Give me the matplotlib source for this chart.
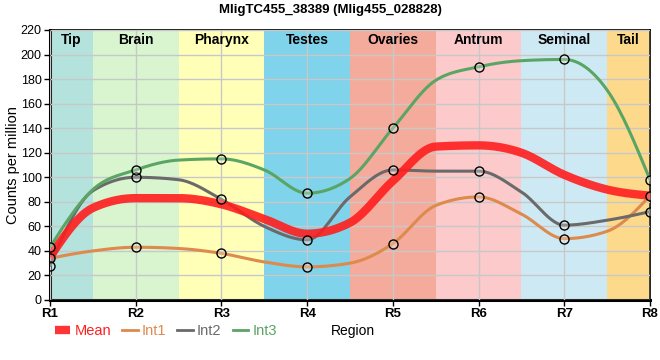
import matplotlib
matplotlib.use('Agg')
import matplotlib.pyplot as plt
from matplotlib.lines import Line2D
import numpy as np

plt.rcParams['font.family'] = ['Liberation Sans', 'DejaVu Sans']

# data
regions = ['R1', 'R2', 'R3', 'R4', 'R5', 'R6', 'R7', 'R8']
int1 = [34, 43, 38, 27, 46, 84, 50, 85]
int2 = [28, 100, 82, 49, 106, 105, 61, 72]
int3 = [43, 106, 115, 87, 140, 190, 196, 98]
mean = [35, 83, 78, 54, 97, 126, 102, 85]

# unmarked values the curves pass through at the region borders (R1|R2 ... R7|R8)
int1_border = [40, 42, 31, 30, 77, 70, 56]
int2_border = [89, 98, 60, 84, 105, 88, 65]
int3_border = [90, 114, 106, 99, 179, 195, 171]
mean_border = [75, 83, 66, 63, 125, 120, 90]

band_names = ['Tip', 'Brain', 'Pharynx', 'Testes', 'Ovaries', 'Antrum', 'Seminal', 'Tail']
band_colors = ['#b4e3de', '#d8f5d0', '#ffffb8', '#7fd3ea', '#f5ab9c', '#fdcacb', '#cdeaf4', '#fdd98c']


def monotone_curve(x, y, n=30):
    # hermite segments with limited slopes, like d3.curveMonotoneX
    x = np.asarray(x, float)
    y = np.asarray(y, float)
    h = np.diff(x)
    s = np.diff(y) / h
    t = np.zeros(len(x))
    for i in range(1, len(x) - 1):
        p = (s[i - 1] * h[i] + s[i] * h[i - 1]) / (h[i - 1] + h[i])
        t[i] = (np.sign(s[i - 1]) + np.sign(s[i])) * min(abs(s[i - 1]), abs(s[i]), 0.5 * abs(p))
    t[0] = (3 * s[0] - t[1]) / 2
    t[-1] = (3 * s[-1] - t[-2]) / 2
    xs, ys = [], []
    for i in range(len(x) - 1):
        u = np.linspace(0, 1, n)
        h00 = 2 * u**3 - 3 * u**2 + 1
        h10 = u**3 - 2 * u**2 + u
        h01 = -2 * u**3 + 3 * u**2
        h11 = u**3 - u**2
        xs.append(x[i] + u * h[i])
        ys.append(h00 * y[i] + h10 * h[i] * t[i] + h01 * y[i + 1] + h11 * h[i] * t[i + 1])
    return np.concatenate(xs), np.concatenate(ys)


def knots(vals, border):
    kx, ky = [], []
    for i, v in enumerate(vals):
        kx.append(i)
        ky.append(v)
        if i < len(border):
            kx.append(i + 0.5)
            ky.append(border[i])
    return kx, ky


fig = plt.figure(figsize=(6.6, 3.6), dpi=100)
ax = fig.add_axes([50 / 660, 60 / 360, 600 / 660, 270 / 360])

xpos = np.arange(len(regions))

# coloured region bands
edges = np.concatenate([[0], np.arange(0.5, len(regions) - 1, 1.0), [len(regions) - 1]])
for i, name in enumerate(band_names):
    ax.axvspan(edges[i], edges[i + 1], color=band_colors[i], zorder=0, lw=0)
    ax.text((edges[i] + edges[i + 1]) / 2, 212, name, ha='center', va='center',
            fontsize=10, fontweight='bold', zorder=5)

ax.grid(True, color='#c8c8c8', lw=1, zorder=1)
ax.set_axisbelow(False)

series = [('Int1', int1, int1_border, '#dd8a4c'),
          ('Int2', int2, int2_border, '#6a6a6a'),
          ('Int3', int3, int3_border, '#5aa564')]
for name, vals, border, col in series:
    cx, cy = monotone_curve(*knots(vals, border))
    ax.plot(cx, cy, color=col, lw=2.2, zorder=3, solid_capstyle='round')

cx, cy = monotone_curve(*knots(mean, mean_border))
ax.plot(cx, cy, color='#ff1e1e', lw=6, alpha=0.9, zorder=4, solid_capstyle='butt')

for name, vals, border, col in series:
    ax.plot(xpos, vals, ls='none', marker='o', ms=6.5, mfc=(1, 1, 1, 0.25),
            mec='black', mew=1, zorder=6)

ax.set_xlim(0, len(regions) - 1)
ax.set_ylim(0, 220)
ax.set_yticks(np.arange(0, 221, 20))
ax.set_xticks(xpos)
ax.set_xticklabels(regions, fontweight='bold', fontsize=9.5)
ax.tick_params(axis='y', labelsize=9, length=4, width=1, pad=2)
ax.tick_params(axis='x', length=4, width=1, pad=2)
for side in ['left', 'bottom']:
    ax.spines[side].set_linewidth(2.2)
for side in ['top', 'right']:
    ax.spines[side].set_linewidth(1.2)
ax.set_ylabel('Counts per million', fontsize=10.5)
ax.yaxis.set_label_coords(-30 / 600, 0.5)

fig.suptitle('MligTC455_38389 (Mlig455_028828)', fontsize=9.5, fontweight='bold', y=0.99)

handles = [Line2D([], [], color='#ff1e1e', lw=6, alpha=0.9, solid_capstyle='butt'),
           Line2D([], [], color='#dd8a4c', lw=2),
           Line2D([], [], color='#6a6a6a', lw=2),
           Line2D([], [], color='#5aa564', lw=2)]
leg = fig.legend(handles, ['Mean', 'Int1', 'Int2', 'Int3'], loc='center left',
                 bbox_to_anchor=(55 / 660, 1 - 331 / 360), ncol=4, frameon=False,
                 fontsize=10.5, handlelength=1.05, handletextpad=0.3, columnspacing=0.75,
                 borderpad=0, borderaxespad=0, labelcolor='linecolor')
fig.text(331 / 660, 1 - 331 / 360, 'Region', ha='left', va='center', fontsize=10)

fig.savefig('out.png', dpi=100)
